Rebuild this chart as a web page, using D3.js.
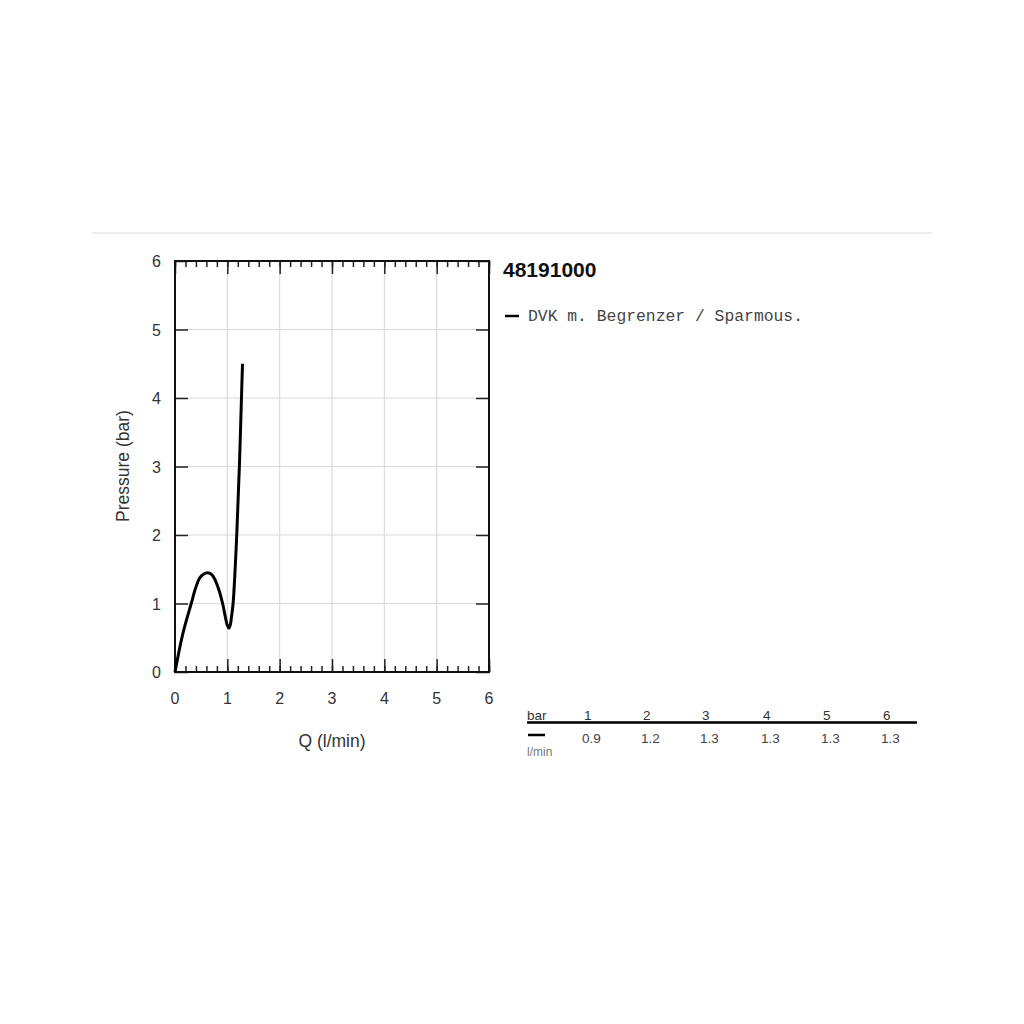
<!DOCTYPE html>
<html><head><meta charset="utf-8">
<script src="https://cdn.jsdelivr.net/npm/d3@7"></script>
<style>body{margin:0;background:#fff}svg{display:block}</style>
</head><body>
<script>
const flowQ =   [0, 0.15, 0.31, 0.40, 0.47, 0.55, 0.62, 0.69, 0.75, 0.83, 0.91, 0.96, 1.0, 1.03, 1.06, 1.08, 1.11, 1.18, 1.23, 1.27, 1.29];
const pressure =[0, 0.56, 1.0, 1.24, 1.37, 1.43, 1.45, 1.43, 1.37, 1.22, 1.0, 0.81, 0.68, 0.64, 0.70, 0.81, 1.0, 2.0, 3.0, 4.0, 4.5];
const xTicks = [0,1,2,3,4,5,6];
const yTicks = [0,1,2,3,4,5,6];
const title = "48191000";
const seriesName = "DVK m. Begrenzer / Sparmous.";
const tableBar = ["1","2","3","4","5","6"];
const tableFlow = ["0.9","1.2","1.3","1.3","1.3","1.3"];

const W=1024,H=1024;
const svg=d3.select("body").append("svg").attr("width",W).attr("height",H);
const L=175,R=489,T=261,B=672;
const x=d3.scaleLinear().domain([0,6]).range([L,R]);
const y=d3.scaleLinear().domain([0,6]).range([B,T]);
const font="Liberation Sans, Arial, sans-serif";

svg.append("line").attr("x1",92).attr("x2",932).attr("y1",233).attr("y2",233).attr("stroke","#e6e6e6").attr("stroke-width",1.5);

// grid
const g=svg.append("g");
g.selectAll(".gx").data(xTicks.slice(1,-1)).join("line").attr("x1",d=>x(d)).attr("x2",d=>x(d)).attr("y1",T).attr("y2",B).attr("stroke","#dadada").attr("stroke-width",1.2);
g.selectAll(".gy").data(yTicks.slice(1,-1)).join("line").attr("y1",d=>y(d)).attr("y2",d=>y(d)).attr("x1",L).attr("x2",R).attr("stroke","#dadada").attr("stroke-width",1.2);

// axes
const minor=d3.range(0,6.001,0.2);
const axB=d3.axisBottom(x).tickValues(minor).tickSize(-6).tickFormat("");
const axT=d3.axisTop(x).tickValues(minor).tickSize(-6).tickFormat("");
const styleAx=sel=>{sel.select(".domain").remove();sel.selectAll("line").attr("stroke","#222").attr("stroke-width",1.5);};
svg.append("g").attr("transform",`translate(0,${B})`).call(axB).call(styleAx);
svg.append("g").attr("transform",`translate(0,${T})`).call(axT).call(styleAx);
svg.append("g").attr("transform",`translate(0,${B})`).call(d3.axisBottom(x).tickValues(xTicks).tickSize(-13).tickFormat("")).call(styleAx);
svg.append("g").attr("transform",`translate(0,${T})`).call(d3.axisTop(x).tickValues(xTicks).tickSize(-13).tickFormat("")).call(styleAx);
svg.append("g").attr("transform",`translate(${L},0)`).call(d3.axisLeft(y).tickValues(yTicks).tickSize(-13).tickFormat("")).call(styleAx);
svg.append("g").attr("transform",`translate(${R},0)`).call(d3.axisRight(y).tickValues(yTicks).tickSize(-13).tickFormat("")).call(styleAx);

svg.append("rect").attr("x",L).attr("y",T).attr("width",R-L).attr("height",B-T).attr("fill","none").attr("stroke","#111").attr("stroke-width",2);

// tick labels
svg.selectAll(".xl").data(xTicks).join("text").attr("x",d=>x(d)).attr("y",704).attr("text-anchor","middle")
  .attr("font-family",font).attr("font-size",16).attr("fill","#333").text(d=>d);
svg.selectAll(".yl").data(yTicks).join("text").attr("x",161).attr("y",d=>y(d)+6).attr("text-anchor","end")
  .attr("font-family",font).attr("font-size",16).attr("fill","#333").text(d=>d);
svg.append("text").attr("x",332).attr("y",747).attr("text-anchor","middle").attr("font-family",font).attr("font-size",17.5).attr("fill","#333").text("Q (l/min)");
svg.append("text").attr("transform","translate(129,466) rotate(-90)").attr("text-anchor","middle").attr("font-family",font).attr("font-size",17.5).attr("fill","#333").text("Pressure (bar)");

// curve
const pts=flowQ.map((q,i)=>[q,pressure[i]]);
svg.append("path").datum(pts).attr("fill","none").attr("stroke","#000").attr("stroke-width",3)
  .attr("d",d3.line().x(d=>x(d[0])).y(d=>y(d[1])).curve(d3.curveCatmullRom.alpha(0.5)));

// title + legend
svg.append("text").attr("x",503).attr("y",277).attr("font-family",font).attr("font-weight","bold").attr("font-size",21).attr("fill","#111").text(title);
svg.append("line").attr("x1",505).attr("x2",519).attr("y1",316).attr("y2",316).attr("stroke","#000").attr("stroke-width",2.5);
svg.append("text").attr("x",528).attr("y",321).attr("font-family","Liberation Mono, DejaVu Sans Mono, monospace").attr("font-size",16)
  .attr("textLength",275).attr("lengthAdjust","spacingAndGlyphs").attr("fill","#444").text(seriesName);

// table
const colX=[582,641,700,761,821,881];
const tf=13.5;
svg.append("text").attr("x",527).attr("y",720).attr("font-family",font).attr("font-size",tf).attr("fill","#333").text("bar");
svg.selectAll(".tb").data(tableBar).join("text").attr("x",(d,i)=>colX[i]+2).attr("y",720).attr("font-family",font).attr("font-size",tf).attr("fill","#333").text(d=>d);
svg.append("line").attr("x1",527).attr("x2",917).attr("y1",722.5).attr("y2",722.5).attr("stroke","#000").attr("stroke-width",2.5);
svg.append("line").attr("x1",528).attr("x2",545).attr("y1",735).attr("y2",735).attr("stroke","#000").attr("stroke-width",2.5);
svg.selectAll(".tv").data(tableFlow).join("text").attr("x",(d,i)=>colX[i]).attr("y",743).attr("font-family",font).attr("font-size",tf).attr("fill","#444").text(d=>d);
svg.append("text").attr("x",527).attr("y",756).attr("font-family",font).attr("font-size",12).attr("fill","#777").text("l/min");
</script>
</body></html>
